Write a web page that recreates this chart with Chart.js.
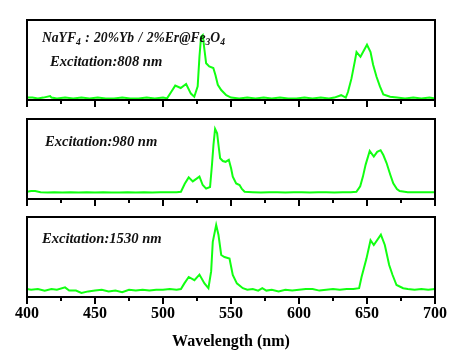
<!DOCTYPE html>
<html>
<head>
<meta charset="utf-8">
<script src="https://cdn.jsdelivr.net/npm/chart.js@4"></script>
<style>
html,body{margin:0;padding:0;background:#fff;width:468px;height:357px;overflow:hidden;}
#wrap{position:relative;width:468px;height:357px;}
canvas{position:absolute;left:0;}
.lbl{position:absolute;font-family:"Liberation Serif","Times New Roman",serif;font-weight:bold;font-style:italic;color:#111;white-space:nowrap;line-height:1;}
.lbl sub{font-size:0.7em;vertical-align:baseline;position:relative;top:0.3em;}
</style>
</head>
<body>
<div id="wrap">
<canvas id="c1" width="468" height="112" style="top:0px"></canvas>
<canvas id="c2" width="468" height="99" style="top:112px"></canvas>
<canvas id="c3" width="468" height="146" style="top:211px"></canvas>
<div class="lbl" id="t0" style="left:42px;top:31px;font-size:13.6px;word-spacing:1px;"></div>
<div class="lbl" id="t1" style="left:50px;top:54px;font-size:14.6px;"></div>
<div class="lbl" id="t2" style="left:45px;top:134px;font-size:14.6px;"></div>
<div class="lbl" id="t3" style="left:42px;top:231px;font-size:14.6px;"></div>
</div>
<script>
// ---- data (normalised intensity per panel) ----
const wl808 = [400,404,408,412,417,418,422,428,434,440,446,452,458,464,470,476,482,488,494,500,503,506,509,513,517,520.5,523,525.5,526.8,528,529.2,530.5,531.7,534,537,538.6,540.3,542.8,546.5,550,556,562,568,574,580,586,592,598,604,610,616,622,626,631,634.4,636,638.6,641,642.3,645.2,650,652.6,654.5,657,659.5,662,667,672,678,684,690,696,700];
const int808 = [0.03,0.03,0.02,0.03,0.05,0.03,0.02,0.03,0.02,0.03,0.02,0.03,0.02,0.02,0.03,0.02,0.02,0.03,0.02,0.03,0.02,0.10,0.18,0.15,0.20,0.08,0.04,0.17,0.54,0.79,0.81,0.625,0.46,0.42,0.40,0.31,0.19,0.125,0.06,0.03,0.02,0.03,0.02,0.03,0.02,0.03,0.02,0.02,0.03,0.02,0.03,0.02,0.03,0.06,0.03,0.10,0.27,0.48,0.60,0.54,0.69,0.60,0.44,0.29,0.17,0.07,0.04,0.03,0.02,0.03,0.02,0.03,0.02];

const wl980 = [400,403,406,410,415,420,426,432,438,444,450,456,462,468,474,480,486,492,498,504,510,513.2,516,518.9,521.9,526.8,529.2,531.7,534.6,536,537.1,538.3,539.8,540.8,542,544,546,548.4,550.1,551.3,553.8,556.3,558,560,566,572,578,584,590,596,602,608,614,620,626,632,638,642.2,645,647,649,652,655,657.5,660,662,664.4,667,669.3,672,674,680,686,692,700];
const int980 = [0.09,0.10,0.10,0.085,0.08,0.085,0.08,0.085,0.08,0.085,0.08,0.085,0.08,0.08,0.085,0.08,0.085,0.08,0.085,0.085,0.085,0.09,0.19,0.27,0.22,0.28,0.175,0.13,0.15,0.425,0.675,0.875,0.82,0.675,0.51,0.475,0.465,0.49,0.38,0.28,0.195,0.175,0.125,0.09,0.085,0.08,0.085,0.085,0.08,0.085,0.085,0.08,0.085,0.085,0.08,0.085,0.085,0.09,0.16,0.28,0.43,0.60,0.53,0.59,0.61,0.55,0.45,0.31,0.195,0.125,0.10,0.085,0.085,0.085,0.085];

const wl1530 = [400,403,408,413,418,422,428,431,436,440,445,450,455,460,465,470,475,480,485,490,495,500,505,510,513.2,515.7,518.9,523.1,526.8,530.5,533.4,535.4,536.6,539.1,540.8,542.8,545.2,548.9,551.3,554.3,558.7,562,566,570,573,576,580,585,590,595,600,605,610,615,620,625,630,635,640,644.2,646,649.6,652.6,655,660.2,663.1,666.3,668.8,671.7,676.6,680,685,690,695,700];
const int1530 = [0.10,0.09,0.10,0.08,0.10,0.09,0.12,0.08,0.08,0.05,0.07,0.08,0.09,0.07,0.08,0.06,0.09,0.08,0.09,0.08,0.09,0.09,0.10,0.09,0.10,0.17,0.25,0.21,0.28,0.17,0.11,0.32,0.69,0.90,0.775,0.525,0.50,0.48,0.275,0.17,0.11,0.09,0.10,0.08,0.11,0.08,0.09,0.07,0.09,0.08,0.09,0.10,0.10,0.08,0.09,0.10,0.09,0.10,0.10,0.11,0.25,0.48,0.71,0.65,0.78,0.65,0.40,0.275,0.15,0.11,0.10,0.09,0.10,0.09,0.10];

const xMin = 400, xMax = 700, minorStep = 25, majorStep = 50;
const xTitle = 'Wavelength (nm)';
const sampleLabel = 'NaYF<sub>4</sub> : 20%Yb / 2%Er@Fe<sub>3</sub>O<sub>4</sub>';
const excitationLabels = ['Excitation:808 nm', 'Excitation:980 nm', 'Excitation:1530 nm'];

document.getElementById('t0').innerHTML = sampleLabel;
document.getElementById('t1').textContent = excitationLabels[0];
document.getElementById('t2').textContent = excitationLabels[1];
document.getElementById('t3').textContent = excitationLabels[2];

const framePlugin = {
  id: 'frame',
  afterDraw(chart) {
    const {ctx, chartArea: a, scales: {x}} = chart;
    ctx.save();
    ctx.strokeStyle = '#000';
    ctx.lineWidth = 2;
    ctx.strokeRect(a.left, a.top, a.right - a.left, a.bottom - a.top);
    x.ticks.forEach(t => {
      if (t.value % majorStep !== 0) {
        const px = Math.round(x.getPixelForValue(t.value));
        ctx.beginPath();
        ctx.moveTo(px, a.bottom);
        ctx.lineTo(px, a.bottom + 4);
        ctx.stroke();
      }
    });
    ctx.restore();
  }
};

function makeChart(id, wl, vals, padTop, axisH, showLabels) {
  const serif = 'Liberation Serif, Times New Roman, serif';
  return new Chart(document.getElementById(id), {
    type: 'line',
    data: {
      datasets: [{
        data: wl.map((w, i) => ({x: w, y: vals[i]})),
        borderColor: '#11ff11',
        borderWidth: 2,
        pointRadius: 0,
        tension: 0,
        fill: false
      }]
    },
    options: {
      responsive: false,
      animation: false,
      events: [],
      layout: {padding: {left: 27, right: 33, top: padTop, bottom: 0}},
      plugins: {legend: {display: false}, tooltip: {enabled: false}},
      scales: {
        y: {display: false, min: 0, max: 1},
        x: {
          type: 'linear', min: xMin, max: xMax,
          afterFit: s => { s.height = axisH; },
          border: {display: false},
          grid: {
            display: true, drawOnChartArea: false, drawTicks: true,
            tickLength: 7, tickWidth: 2, lineWidth: 2,
            tickColor: c => (c.tick && c.tick.value % majorStep === 0) ? '#000' : 'rgba(0,0,0,0)'
          },
          ticks: {
            display: showLabels, stepSize: minorStep, autoSkip: false, maxRotation: 0,
            padding: 0, color: '#000',
            font: {family: serif, weight: 'bold', size: 16},
            callback: v => (v % majorStep === 0 ? String(v) : '')
          },
          title: {
            display: showLabels, text: xTitle, color: '#000',
            font: {family: serif, weight: 'bold', size: 16},
            padding: {top: 0, bottom: 6}
          }
        }
      }
    },
    plugins: [framePlugin]
  });
}

makeChart('c1', wl808, int808, 20, 12, false);
makeChart('c2', wl980, int980, 7, 12, false);
makeChart('c3', wl1530, int1530, 6, 60, true);
</script>
</body>
</html>
